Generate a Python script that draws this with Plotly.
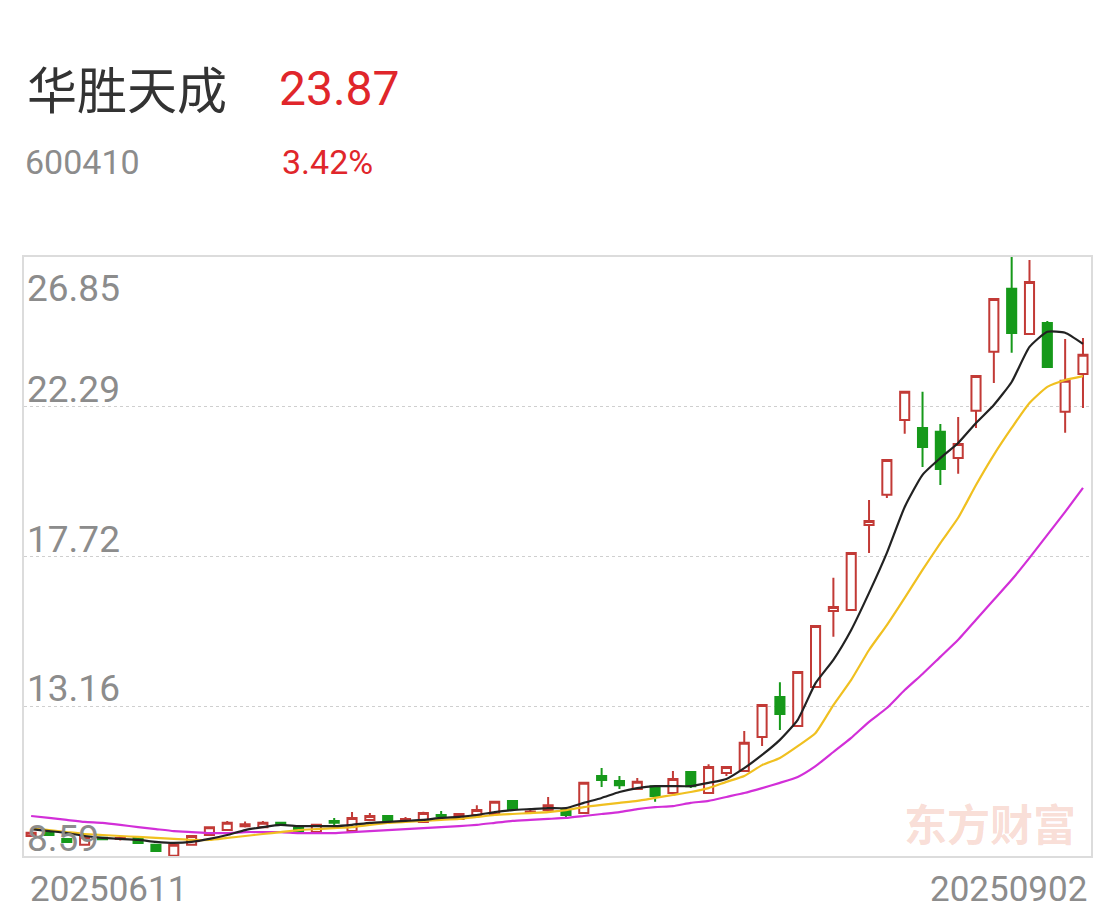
import plotly.graph_objects as go

dates = ["20250611","20250612","20250613","20250616","20250617","20250618","20250619","20250620",
         "20250623","20250624","20250625","20250626","20250627","20250630",
         "20250701","20250702","20250703","20250704","20250707","20250708","20250709","20250710",
         "20250711","20250714","20250715","20250716","20250717","20250718","20250721","20250722",
         "20250723","20250724","20250725","20250728","20250729","20250730","20250731",
         "20250801","20250804","20250805","20250806","20250807","20250808","20250811","20250812",
         "20250813","20250814","20250815","20250818","20250819","20250820","20250821","20250822",
         "20250825","20250826","20250827","20250828","20250829","20250901","20250902"]

open_ = [9.20, 9.32, 9.11, 8.93, 9.15, 9.11, 9.14, 8.93, 8.60, 8.93,
         9.23, 9.38, 9.50, 9.47, 9.60, 9.44, 9.32, 9.66, 9.35, 9.69,
         9.81, 9.68, 9.63, 9.84, 9.72, 9.84, 9.87, 10.27, 9.92, 9.99,
         9.99, 9.90, 11.03, 10.88, 10.63, 10.72, 10.51, 11.15, 10.51, 11.12,
         11.18, 12.22, 13.44, 12.55, 13.74, 16.06, 16.09, 18.68, 19.60, 21.88,
         21.64, 21.52, 20.72, 22.16, 23.96, 25.88, 24.50, 24.84, 22.13, 23.28]
close = [9.30, 9.23, 9.02, 9.17, 9.10, 9.14, 8.99, 8.74, 8.93, 9.20,
         9.47, 9.60, 9.56, 9.60, 9.54, 9.35, 9.54, 9.60, 9.75, 9.81,
         9.66, 9.72, 9.90, 9.81, 9.87, 9.99, 10.24, 10.02, 9.95, 10.14,
         9.84, 10.82, 10.91, 10.75, 10.85, 10.42, 10.94, 10.72, 11.30, 11.30,
         12.04, 13.19, 12.92, 14.20, 15.60, 16.18, 17.83, 18.80, 20.66, 22.74,
         21.06, 20.39, 21.15, 23.22, 25.57, 24.53, 26.09, 23.50, 23.08, 23.87]
high = [9.33, 9.34, 9.13, 9.19, 9.17, 9.20, 9.16, 8.95, 8.95, 9.22,
        9.49, 9.66, 9.64, 9.66, 9.62, 9.46, 9.56, 9.75, 9.93, 9.90,
        9.84, 9.78, 9.94, 9.96, 9.89, 10.14, 10.26, 10.29, 9.99, 10.39,
        10.02, 10.85, 11.27, 11.03, 10.97, 10.74, 11.18, 11.17, 11.39, 11.33,
        12.40, 13.22, 13.89, 14.23, 15.63, 17.07, 17.86, 19.44, 20.69, 22.77,
        22.74, 21.76, 21.97, 23.25, 25.60, 26.85, 26.76, 24.90, 24.35, 24.38]
low = [9.18, 9.21, 9.00, 8.91, 9.08, 9.06, 8.97, 8.72, 8.59, 8.90,
       9.21, 9.36, 9.46, 9.45, 9.52, 9.33, 9.30, 9.47, 9.33, 9.66,
       9.63, 9.62, 9.60, 9.72, 9.69, 9.82, 9.85, 10.00, 9.88, 9.96,
       9.75, 9.88, 10.69, 10.63, 10.60, 10.24, 10.48, 10.66, 10.48, 11.03,
       11.15, 11.94, 12.43, 12.52, 13.71, 15.27, 16.06, 17.83, 19.50, 21.46,
       20.45, 19.90, 20.24, 21.64, 23.01, 23.93, 24.47, 23.47, 21.49, 22.25]

ma5 = [9.41, 9.35, 9.29, 9.20, 9.14, 9.11, 9.08, 9.02, 8.99, 9.02,
       9.11, 9.23, 9.38, 9.47, 9.54, 9.50, 9.50, 9.50, 9.54, 9.60,
       9.63, 9.66, 9.69, 9.75, 9.78, 9.84, 9.93, 9.99, 10.02, 10.05,
       10.05, 10.21, 10.36, 10.54, 10.66, 10.72, 10.72, 10.72, 10.82, 10.94,
       11.27, 11.67, 12.13, 12.74, 13.86, 14.57, 15.48, 16.61, 17.83, 19.23,
       20.21, 20.72, 21.18, 21.79, 22.34, 23.04, 24.11, 24.57, 24.54, 24.20]
ma10 = [9.44, 9.38, 9.32, 9.26, 9.23, 9.20, 9.17, 9.14, 9.11, 9.08,
        9.08, 9.14, 9.20, 9.26, 9.32, 9.38, 9.41, 9.44, 9.47, 9.54,
        9.60, 9.63, 9.66, 9.69, 9.72, 9.78, 9.84, 9.87, 9.90, 9.93,
        9.99, 10.08, 10.15, 10.21, 10.27, 10.36, 10.45, 10.54, 10.66, 10.85,
        11.03, 11.36, 11.58, 11.94, 12.34, 13.19, 13.96, 14.87, 15.63, 16.46,
        17.31, 18.13, 18.90, 19.90, 20.82, 21.64, 22.40, 22.89, 23.10, 23.22]
ma20 = [9.81, 9.75, 9.69, 9.63, 9.60, 9.54, 9.47, 9.41, 9.35, 9.32,
        9.29, 9.29, 9.32, 9.32, 9.32, 9.29, 9.29, 9.29, 9.32, 9.35,
        9.38, 9.41, 9.44, 9.47, 9.50, 9.54, 9.60, 9.66, 9.69, 9.72,
        9.75, 9.81, 9.87, 9.93, 10.02, 10.08, 10.11, 10.21, 10.27, 10.39,
        10.51, 10.66, 10.82, 11.00, 11.33, 11.76, 12.19, 12.68, 13.10, 13.65,
        14.14, 14.66, 15.18, 15.79, 16.40, 17.01, 17.68, 18.38, 19.08, 19.81]

y_ticks = [8.59, 13.16, 17.72, 22.29, 26.85]
stock_name = "华胜天成"
stock_code = "600410"
last_price = "23.87"
pct_change = "3.42%"
date_labels = ["20250611", "20250902"]
watermark = "东方财富"

RED = "#c23a36"
GREEN = "#16991a"
TXT_RED = "#e0262b"
GRAY = "#8c8c8c"
FONT = "Roboto, 'Noto Sans CJK SC', sans-serif"
CJK = "'Noto Sans CJK SC', sans-serif"

fig = go.Figure()
fig.add_trace(go.Candlestick(
    x=dates, open=open_, high=high, low=low, close=close,
    increasing=dict(line=dict(color=RED, width=2), fillcolor="white"),
    decreasing=dict(line=dict(color=GREEN, width=2), fillcolor=GREEN),
    whiskerwidth=0, showlegend=False, hoverinfo="skip"))
fig.add_trace(go.Scatter(x=dates, y=ma20, mode="lines", line=dict(color="#d22fd8", width=2.2, shape="spline", smoothing=0.5), showlegend=False))
fig.add_trace(go.Scatter(x=dates, y=ma10, mode="lines", line=dict(color="#f0c020", width=2.2, shape="spline", smoothing=0.5), showlegend=False))
fig.add_trace(go.Scatter(x=dates, y=ma5, mode="lines", line=dict(color="#222222", width=2.2, shape="spline", smoothing=0.5), showlegend=False))

L, R, T, B = 24, 25, 257, 61
W, H = 1116, 917
pw, ph = W - L - R, H - T - B

def px(x):
    return (x - L) / pw

def py(y):
    return (H - B - y) / ph

ann = []
ann.append(dict(text=stock_name, x=px(25), y=py(87), xref="paper", yref="paper", xanchor="left", yanchor="middle",
                showarrow=False, font=dict(family=CJK, size=50, color="#333333")))
ann.append(dict(text=last_price, x=px(277), y=py(88), xref="paper", yref="paper", xanchor="left", yanchor="middle",
                showarrow=False, font=dict(family=FONT, size=48, color=TXT_RED)))
ann.append(dict(text=stock_code, x=px(23), y=py(162), xref="paper", yref="paper", xanchor="left", yanchor="middle",
                showarrow=False, font=dict(family=FONT, size=34, color=GRAY)))
ann.append(dict(text=pct_change, x=px(280), y=py(162), xref="paper", yref="paper", xanchor="left", yanchor="middle",
                showarrow=False, font=dict(family=FONT, size=34, color=TXT_RED)))
for i, v in enumerate(y_ticks):
    if i == len(y_ticks) - 1:
        ann.append(dict(text=f"{v:.2f}", x=px(25), y=v, xref="paper", yref="y", xanchor="left", yanchor="top",
                        yshift=-8, showarrow=False, font=dict(family=FONT, size=37, color=GRAY)))
    else:
        ann.append(dict(text=f"{v:.2f}", x=px(25), y=v, xref="paper", yref="y", xanchor="left", yanchor="bottom",
                        yshift=-6, showarrow=False, font=dict(family=FONT, size=37, color=GRAY)))
ann.append(dict(text=date_labels[0], x=px(28), y=py(889), xref="paper", yref="paper", xanchor="left", yanchor="middle",
                showarrow=False, font=dict(family=FONT, size=35, color=GRAY)))
ann.append(dict(text=date_labels[1], x=px(1089), y=py(889), xref="paper", yref="paper", xanchor="right", yanchor="middle",
                showarrow=False, font=dict(family=FONT, size=35, color=GRAY)))
ann.append(dict(text=f"<b>{watermark}</b>", x=px(990), y=py(822), xref="paper", yref="paper", xanchor="center", yanchor="middle",
                showarrow=False, font=dict(family=CJK, size=43, color="rgba(232,110,80,0.24)")))

fig.update_layout(
    width=W, height=H, margin=dict(l=L, r=R, t=T, b=B),
    paper_bgcolor="white", plot_bgcolor="white",
    boxgap=0.27,
    annotations=ann,
    xaxis=dict(type="category", range=[-0.4, 59.45], showticklabels=False, showgrid=False, zeroline=False,
               rangeslider=dict(visible=False), showline=True, mirror=True, linecolor="#dcdcdc", linewidth=1.5,
               ticks=""),
    yaxis=dict(range=[8.59, 26.85], tickvals=y_ticks[1:4], showticklabels=False, showgrid=True,
               gridcolor="#cfcfcf", griddash="dot", gridwidth=1, zeroline=False,
               showline=True, mirror=True, linecolor="#dcdcdc", linewidth=1.5, ticks=""),
)

fig.write_html("out.html")
